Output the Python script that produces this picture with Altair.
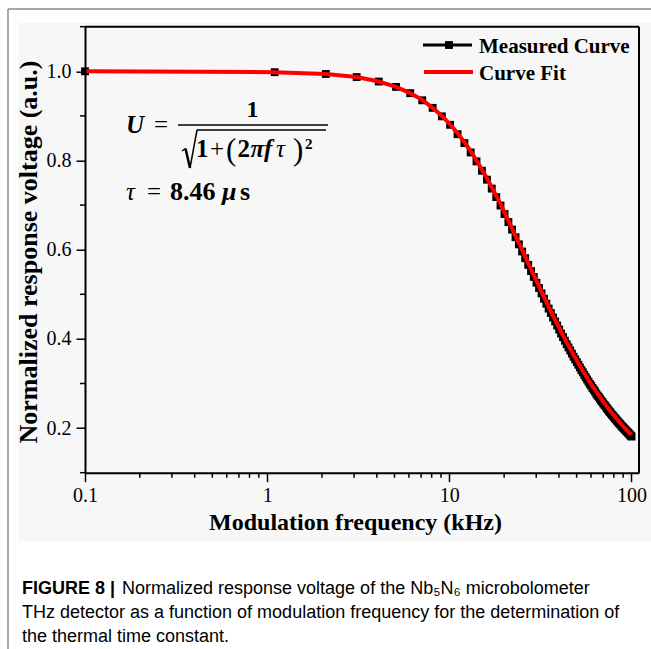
import altair as alt
import pandas as pd

# ---------------- data ----------------
freq_khz = [0.1, 1.1, 2.1, 3.1, 4.1, 5.1, 6.1, 7.1, 8.1, 9.1,
            10.1, 11.1, 12.1, 13.1, 14.1, 15.1, 16.1, 17.1, 18.1, 19.1,
            20.1, 21.1, 22.1, 23.1, 24.1, 25.1, 26.1, 27.1, 28.1, 29.1,
            30.1, 31.1, 32.1, 33.1, 34.1, 35.1, 36.1, 37.1, 38.1, 39.1,
            40.1, 41.1, 42.1, 43.1, 44.1, 45.1, 46.1, 47.1, 48.1, 49.1,
            50.1, 51.1, 52.1, 53.1, 54.1, 55.1, 56.1, 57.1, 58.1, 59.1,
            60.1, 61.1, 62.1, 63.1, 64.1, 65.1, 66.1, 67.1, 68.1, 69.1,
            70.1, 71.1, 72.1, 73.1, 74.1, 75.1, 76.1, 77.1, 78.1, 79.1,
            80.1, 81.1, 82.1, 83.1, 84.1, 85.1, 86.1, 87.1, 88.1, 89.1,
            90.1, 91.1, 92.1, 93.1, 94.1, 95.1, 96.1, 97.1, 98.1, 99.1,
            100.1]

measured = [1.000, 0.998, 0.994, 0.987, 0.977, 0.965, 0.951, 0.935, 0.918, 0.899,
            0.880, 0.859, 0.839, 0.818, 0.798, 0.777, 0.757, 0.737, 0.718, 0.699,
            0.680, 0.662, 0.645, 0.628, 0.612, 0.596, 0.581, 0.566, 0.552, 0.539,
            0.526, 0.514, 0.502, 0.490, 0.479, 0.468, 0.458, 0.448, 0.439, 0.430,
            0.421, 0.412, 0.404, 0.396, 0.388, 0.381, 0.374, 0.367, 0.360, 0.354,
            0.348, 0.342, 0.336, 0.330, 0.325, 0.319, 0.314, 0.309, 0.304, 0.299,
            0.295, 0.290, 0.286, 0.282, 0.277, 0.273, 0.270, 0.266, 0.262, 0.259,
            0.255, 0.252, 0.249, 0.245, 0.242, 0.239, 0.236, 0.233, 0.230, 0.228,
            0.225, 0.222, 0.220, 0.217, 0.215, 0.212, 0.210, 0.208, 0.205, 0.203,
            0.201, 0.199, 0.197, 0.195, 0.193, 0.191, 0.189, 0.187, 0.185, 0.183,
            0.181]

fit = [1.000, 0.998, 0.994, 0.987, 0.977, 0.965, 0.951, 0.936, 0.918, 0.900,
       0.881, 0.861, 0.841, 0.821, 0.800, 0.780, 0.760, 0.740, 0.721, 0.702,
       0.683, 0.665, 0.648, 0.631, 0.615, 0.600, 0.585, 0.570, 0.556, 0.543,
       0.530, 0.518, 0.506, 0.494, 0.483, 0.472, 0.462, 0.452, 0.443, 0.434,
       0.425, 0.416, 0.408, 0.400, 0.392, 0.385, 0.378, 0.371, 0.364, 0.358,
       0.352, 0.345, 0.340, 0.334, 0.328, 0.323, 0.318, 0.313, 0.308, 0.303,
       0.299, 0.294, 0.290, 0.286, 0.282, 0.278, 0.274, 0.270, 0.266, 0.263,
       0.259, 0.256, 0.252, 0.249, 0.246, 0.243, 0.240, 0.237, 0.234, 0.231,
       0.229, 0.226, 0.223, 0.221, 0.218, 0.216, 0.213, 0.211, 0.209, 0.207,
       0.204, 0.202, 0.200, 0.198, 0.196, 0.194, 0.192, 0.190, 0.188, 0.187,
       0.185]

x_ticks = [0.1, 1, 10, 100]
x_minor = [0.2, 0.3, 0.4, 0.5, 0.6, 0.7, 0.8, 0.9,
           2, 3, 4, 5, 6, 7, 8, 9,
           20, 30, 40, 50, 60, 70, 80, 90]
y_ticks = [0.2, 0.4, 0.6, 0.8, 1.0]
y_minor = [0.1, 0.3, 0.5, 0.7, 0.9, 1.1]

legend_labels = ["Measured Curve", "Curve Fit"]
x_title = "Modulation frequency (kHz)"
y_title = "Normalized response voltage (a.u.)"
caption_bold = "FIGURE 8 |"
caption_lines = ["Normalized response voltage of the Nb\u2085N\u2086 microbolometer",
                 "THz detector as a function of modulation frequency for the determination of",
                 "the thermal time constant."]

# ---------------- layout ----------------
W, H = 554, 446
PAD_L, PAD_T = 85, 26.7
SERIF = "Liberation Serif"
SANS = "Liberation Sans Narrow, Liberation Sans, Arial, sans-serif"

df = pd.DataFrame({"f": freq_khz, "measured": measured, "fit": fit})
one = pd.DataFrame({"a": [0]})

xscale = alt.Scale(type="log", domain=[0.1, 110], nice=False)
yscale = alt.Scale(domain=[0.1, 1.1], nice=False, zero=False)

x_axis = alt.Axis(values=x_ticks, title=None, grid=False, zindex=2, labelFlush=False,
                  labelExpr="datum.value < 1 ? '0.1' : format(datum.value, 'd')")
y_axis = alt.Axis(values=y_ticks, title=None, grid=False, format=".1f", zindex=2,
                  labelFlush=False)

bg = alt.Chart(one).mark_rect(color="#f7f7f7").encode(
    x=alt.value(18 - PAD_L), x2=alt.value(651 - PAD_L),
    y=alt.value(23 - PAD_T), y2=alt.value(541 - PAD_T))


def seg(x1, y1, x2, y2, width=1.5, color="black"):
    return alt.Chart(one).mark_rule(color=color, strokeWidth=width).encode(
        x=alt.value(x1 - PAD_L), y=alt.value(y1 - PAD_T),
        x2=alt.value(x2 - PAD_L), y2=alt.value(y2 - PAD_T))


frame_top = seg(8, 9, 651, 9, width=1.5, color="#8a8a8a")
frame_left = seg(8, 9, 8, 649, width=1.5, color="#8a8a8a")

meas_line = alt.Chart(df).mark_line(color="black", strokeWidth=2).encode(
    x=alt.X("f:Q", scale=xscale, axis=x_axis),
    y=alt.Y("measured:Q", scale=yscale, axis=y_axis))
meas_pts = alt.Chart(df).mark_square(color="black", size=62, opacity=1).encode(
    x=alt.X("f:Q", scale=xscale), y=alt.Y("measured:Q", scale=yscale))
fit_line = alt.Chart(df).mark_line(color="#ff0000", strokeWidth=4).encode(
    x=alt.X("f:Q", scale=xscale), y=alt.Y("fit:Q", scale=yscale))

border_top = alt.Chart(one).mark_rule(color="black", strokeWidth=2).encode(
    x=alt.value(0), x2=alt.value(W), y=alt.value(0))
border_right = alt.Chart(one).mark_rule(color="black", strokeWidth=2).encode(
    x=alt.value(W), y=alt.value(0), y2=alt.value(H))

xminor = alt.Chart(pd.DataFrame({"v": x_minor})).mark_rule(color="black", strokeWidth=1.5).encode(
    x=alt.X("v:Q", scale=xscale), y=alt.value(H), y2=alt.value(H + 5))
yminor = alt.Chart(pd.DataFrame({"v": y_minor})).mark_rule(color="black", strokeWidth=1.5).encode(
    y=alt.Y("v:Q", scale=yscale), x=alt.value(-5), x2=alt.value(0))

# legend
leg_black = seg(423, 45, 472, 45, width=3)
leg_sq = alt.Chart(one).mark_square(color="black", size=62, opacity=1).encode(
    x=alt.value(449 - PAD_L), y=alt.value(45 - PAD_T))
leg_red = seg(424, 72, 473, 72, width=4, color="#ff0000")


def txt(s, x, y, size=24, weight="normal", style="normal", align="left",
        baseline="alphabetic", font=SERIF, angle=0, color="black"):
    kw = dict(text=s, font=font, fontSize=size, fontWeight=weight, fontStyle=style,
              align=align, baseline=baseline, color=color)
    if angle:
        kw["angle"] = angle
    return alt.Chart(one).mark_text(**kw).encode(
        x=alt.value(x - PAD_L), y=alt.value(y - PAD_T))


leg_t1 = txt(legend_labels[0], 479, 53, size=21, weight="bold")
leg_t2 = txt(legend_labels[1], 479, 80, size=21, weight="bold")

# formula  U = 1 / sqrt(1 + (2 pi f tau)^2)
formula = [
    txt("U", 126, 133, size=25, weight="bold", style="italic"),
    txt("=", 154, 133, size=25),
    txt("1", 252.5, 117, size=24, weight="bold", align="center"),
    seg(178, 125, 328, 125, width=1.5),
    # radical sign
    seg(182, 151, 185.5, 148.5, width=1.5),
    seg(185.5, 148.5, 190, 168, width=2.5),
    seg(190, 168, 197, 130, width=1.5),
    seg(197, 130, 326, 130, width=1.5),
    txt("1", 196, 157, size=25, weight="bold"),
    txt("+", 210, 157, size=25),
    txt("(", 226, 160, size=31),
    txt("2", 237.5, 157, size=25, weight="bold"),
    txt("\u03c0", 250.5, 157, size=25, weight="bold", style="italic"),
    txt("f", 264, 157, size=25, weight="bold", style="italic"),
    txt("\u03c4", 276, 157, size=25, style="italic"),
    txt(")", 293, 160, size=31),
    txt("2", 305, 149, size=15, weight="bold"),
    # tau = 8.46 us
    txt("\u03c4", 126, 200, size=25, style="italic"),
    txt("=", 147, 200, size=25),
    txt("8.46", 170, 200, size=26, weight="bold"),
    txt("\u03bc", 222, 200, size=26, weight="bold", style="italic"),
    txt("s", 240, 200, size=26, weight="bold"),
]

# axis titles
t_x = txt(x_title, 355.5, 530, size=24, weight="bold", align="center")
t_y = txt(y_title, 29, 252, size=26, weight="bold", align="center",
          baseline="middle", angle=270)

# caption
c0 = txt(caption_bold, 22, 594, size=18, weight="bold", font=SANS)
c1 = txt(caption_lines[0], 122, 594, size=18, font=SANS)
c2 = txt(caption_lines[1], 22, 618, size=18, font=SANS)
c3 = txt(caption_lines[2], 22, 642, size=18, font=SANS)

chart = alt.layer(
    bg, frame_top, frame_left,
    meas_line, meas_pts, fit_line,
    border_top, border_right, xminor, yminor,
    leg_black, leg_sq, leg_red, leg_t1, leg_t2,
    *formula,
    t_x, t_y, c0, c1, c2, c3,
).properties(
    width=W, height=H,
    autosize=alt.AutoSizeParams(type="none"),
    padding={"left": PAD_L, "top": PAD_T, "right": 651 - PAD_L - W, "bottom": 649 - PAD_T - H},
    background="white",
).configure_view(stroke=None).configure_axis(
    domainColor="black", domainWidth=2, tickColor="black", tickWidth=1.5, tickSize=9,
    labelFont=SERIF, labelFontSize=20, labelColor="black",
).configure_axisX(labelPadding=4).configure_axisY(labelPadding=5)

chart.save("out.html", embed_options={"renderer": "svg", "actions": False})
